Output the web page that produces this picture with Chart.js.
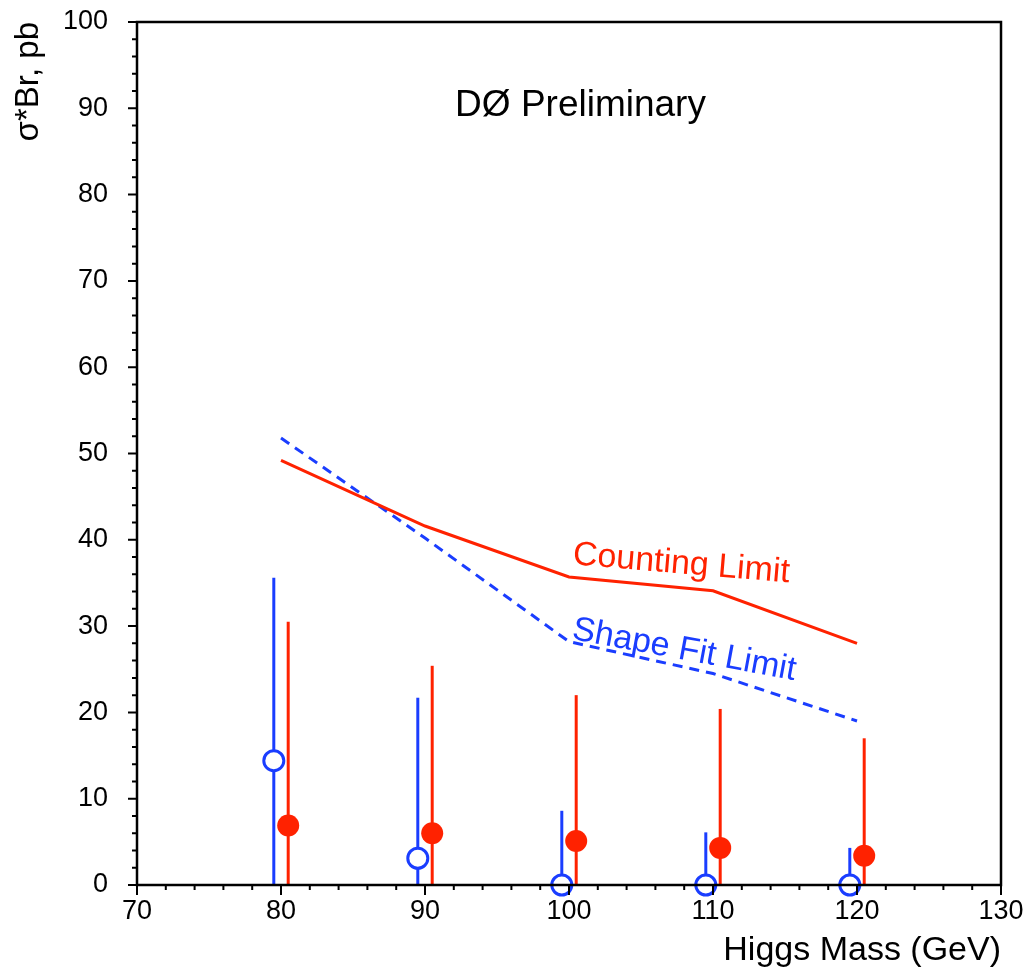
<!DOCTYPE html>
<html>
<head>
<meta charset="utf-8">
<script src="https://cdn.jsdelivr.net/npm/chart.js@4.4.1/dist/chart.umd.min.js"></script>
<style>
  html, body { margin: 0; padding: 0; background: #fff; }
  #wrap { width: 1030px; height: 974px; }
</style>
</head>
<body>
<div id="wrap"><canvas id="c" width="1030" height="974"></canvas></div>
<script>
// Higgs mass points (GeV)
const massPoints = [80, 90, 100, 110, 120];

// Expected limits (pb)
const countingLimit = [49.2, 41.6, 35.7, 34.1, 28.0];
const shapeFitLimit = [51.8, 40.2, 28.2, 24.5, 19.0];

// Counting method: central value and error bar ends (pb)
const countingValue = [6.9, 6.0, 5.1, 4.3, 3.4];
const countingUpper = [30.5, 25.4, 22.0, 20.4, 17.0];
const countingLower = [0, 0, 0, 0, 0];

// Shape fit: central value and error bar ends (pb)
const shapeValue = [14.4, 3.1, 0, 0, 0];
const shapeUpper = [35.6, 21.7, 8.6, 6.1, 4.3];
const shapeLower = [0, 0, 0, 0, 0];

// Horizontal offsets so the two measurements at one mass don't overlap
const countingShift = 0.5;
const shapeShift = -0.5;

const xTicks = [70, 80, 90, 100, 110, 120, 130];
const yTicks = [0, 10, 20, 30, 40, 50, 60, 70, 80, 90, 100];

const RED = '#ff2200';
const BLUE = '#1a3dff';
const FONT = '"Liberation Sans", Arial, Helvetica, sans-serif';

const pts = (xs, ys, dx) => xs.map((x, i) => ({ x: x + dx, y: ys[i] }));

// Error bars, minor/major tick marks, frame and text annotations
const decorations = {
  id: 'decorations',
  beforeDatasetsDraw(chart) {
    const { ctx, scales: { x, y } } = chart;
    ctx.save();
    ctx.lineWidth = 3;
    const bars = (xs, lo, hi, dx, color) => {
      ctx.strokeStyle = color;
      xs.forEach((m, i) => {
        const px = x.getPixelForValue(m + dx);
        ctx.beginPath();
        ctx.moveTo(px, y.getPixelForValue(lo[i]));
        ctx.lineTo(px, y.getPixelForValue(hi[i]));
        ctx.stroke();
      });
    };
    bars(massPoints, shapeLower, shapeUpper, shapeShift, BLUE);
    bars(massPoints, countingLower, countingUpper, countingShift, RED);
    ctx.restore();
  },
  afterDatasetsDraw(chart) {
    const { ctx, chartArea: a, scales: { x, y } } = chart;
    ctx.save();
    ctx.strokeStyle = '#000';
    ctx.lineWidth = 2.5;
    ctx.strokeRect(a.left, a.top, a.right - a.left, a.bottom - a.top);

    ctx.lineWidth = 2;
    ctx.beginPath();
    for (let v = 70; v <= 130; v += 2) {
      const px = x.getPixelForValue(v);
      const len = v % 10 === 0 ? 10 : 5;
      ctx.moveTo(px, a.bottom);
      ctx.lineTo(px, a.bottom + len);
    }
    for (let v = 0; v <= 100; v += 2) {
      const py = y.getPixelForValue(v);
      const len = v % 10 === 0 ? 9 : 5;
      ctx.moveTo(a.left, py);
      ctx.lineTo(a.left - len, py);
    }
    ctx.stroke();

    const label = (text, xv, yv, deg, color, size) => {
      ctx.save();
      ctx.translate(x.getPixelForValue(xv), y.getPixelForValue(yv));
      ctx.rotate(deg * Math.PI / 180);
      ctx.fillStyle = color;
      ctx.font = size + 'px ' + FONT;
      ctx.textAlign = 'center';
      ctx.textBaseline = 'middle';
      ctx.fillText(text, 0, 0);
      ctx.restore();
    };
    label('DØ Preliminary', 100.8, 90.3, 0, '#000', 37);
    label('Counting Limit', 107.8, 37.2, 4.8, RED, 34);
    label('Shape Fit Limit', 108.0, 27.2, 10.5, BLUE, 34);
    ctx.restore();
  }
};

new Chart(document.getElementById('c'), {
  type: 'scatter',
  data: {
    datasets: [
      {
        label: 'Counting observed',
        data: pts(massPoints, countingValue, countingShift),
        pointRadius: 11,
        pointBackgroundColor: RED,
        pointBorderWidth: 0,
        borderColor: RED,
        showLine: false,
        clip: false,
        order: 0
      },
      {
        label: 'Shape fit observed',
        data: pts(massPoints, shapeValue, shapeShift),
        pointRadius: 10,
        pointBackgroundColor: '#fff',
        pointBorderColor: BLUE,
        pointBorderWidth: 3,
        showLine: false,
        clip: false,
        order: 0
      },
      {
        type: 'line',
        label: 'Counting Limit',
        data: pts(massPoints, countingLimit, 0),
        borderColor: RED,
        borderWidth: 3,
        pointRadius: 0,
        tension: 0,
        fill: false,
        clip: false,
        order: 1
      },
      {
        type: 'line',
        label: 'Shape Fit Limit',
        data: pts(massPoints, shapeFitLimit, 0),
        borderColor: BLUE,
        borderWidth: 3,
        borderDash: [10, 7],
        pointRadius: 0,
        tension: 0,
        fill: false,
        clip: false,
        order: 1
      }
    ]
  },
  options: {
    responsive: false,
    animation: false,
    devicePixelRatio: 1,
    layout: { padding: { left: 0, top: 22, right: 29, bottom: 0 } },
    plugins: { legend: { display: false }, tooltip: { enabled: false } },
    scales: {
      x: {
        type: 'linear',
        min: 70,
        max: 130,
        afterFit(s) { s.height = 89; s.paddingLeft = 0; s.paddingRight = 0; },
        afterBuildTicks(s) { s.ticks = xTicks.map(v => ({ value: v })); },
        grid: { display: false, drawTicks: false },
        border: { display: false },
        ticks: {
          color: '#000',
          font: { family: FONT, size: 27 },
          padding: 10,
          maxRotation: 0,
          autoSkip: false
        },
        title: {
          display: true,
          text: 'Higgs Mass (GeV)',
          align: 'end',
          color: '#000',
          font: { family: FONT, size: 34, lineHeight: 1 },
          padding: { top: 0, bottom: 6 }
        }
      },
      y: {
        type: 'linear',
        min: 0,
        max: 100,
        afterFit(s) { s.width = 137; s.paddingTop = 0; s.paddingBottom = 0; },
        afterBuildTicks(s) { s.ticks = yTicks.map(v => ({ value: v })); },
        grid: { display: false, drawTicks: false },
        border: { display: false },
        ticks: {
          color: '#000',
          font: { family: FONT, size: 27 },
          padding: 29,
          autoSkip: false
        },
        title: {
          display: true,
          text: 'σ*Br, pb',
          align: 'end',
          color: '#000',
          font: { family: FONT, size: 33, lineHeight: 1 },
          padding: { top: 12, bottom: 0 }
        }
      }
    }
  },
  plugins: [decorations]
});
</script>
</body>
</html>
